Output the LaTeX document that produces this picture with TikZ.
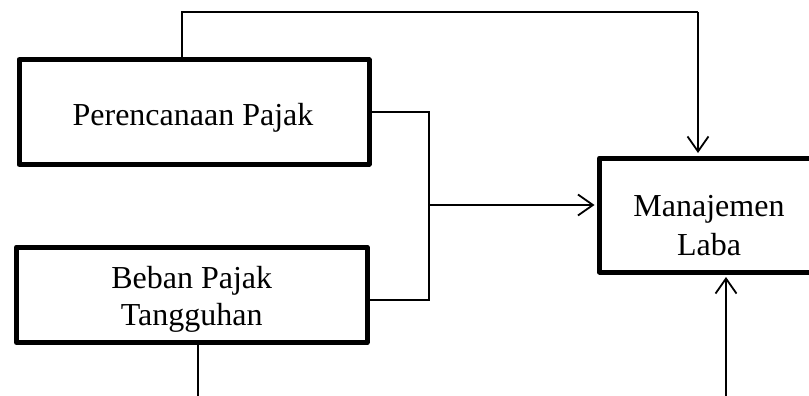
\documentclass[tikz,border=0pt]{standalone}
\usepackage{fontspec}
\setmainfont{Liberation Serif}
\usetikzlibrary{arrows.meta}
\begin{document}
\begin{tikzpicture}[x=1pt,y=-1pt,
  varbox/.style={draw,line width=5pt,line join=round,rectangle,inner sep=0pt},
  lbl/.style={anchor=base,inner sep=0pt,font=\fontsize{32}{37}\selectfont},
  wire/.style={line width=1.4pt},
  flow/.style={wire,-{Straight Barb[length=15pt,width=21pt,line width=1.8pt]},shorten >=2.5pt}]
\useasboundingbox (0,0) rectangle (809,396);
\clip (0,0) rectangle (809,396);

% boxes
\node[varbox,minimum width=350pt,minimum height=104.5pt] (pp) at (194,112) {};
\node[varbox,minimum width=350.5pt,minimum height=95.5pt] (bpt) at (191.75,294.75) {};
\node[varbox,minimum width=222pt,minimum height=114pt] (ml) at (710.5,215) {};

% labels
\node[lbl] (tpp) at (193,125) {Perencanaan Pajak};
\node[lbl] (tbpt1) at (191.7,288.3) {Beban Pajak};
\node[lbl] (tbpt2) at (191.7,325) {Tangguhan};
\node[lbl] (tml1) at (709,216.7) {Manajemen};
\node[lbl] (tml2) at (709,255) {Laba};

% routing points
\coordinate (topL) at (182,12);
\coordinate (topR) at (698,12);
\coordinate (jn1) at (429,112);
\coordinate (jn2) at (429,300);
\coordinate (jmid) at (429,205);
\coordinate (bpEnd) at (198,396);
\coordinate (mlSrc) at (726,396);

% connectors
\draw[wire] (topL |- pp.north) -- (topL) -- (topR);
\draw[flow] (topR) -- (topR |- ml.north);
\draw[wire] (pp.east) -- (jn1) -- (jn2) -- (jn2 -| bpt.east);
\draw[flow] (jmid) -- (jmid -| ml.west);
\draw[wire] (bpEnd |- bpt.south) -- (bpEnd);
\draw[flow] (mlSrc) -- (mlSrc |- ml.south);
\end{tikzpicture}
\end{document}
